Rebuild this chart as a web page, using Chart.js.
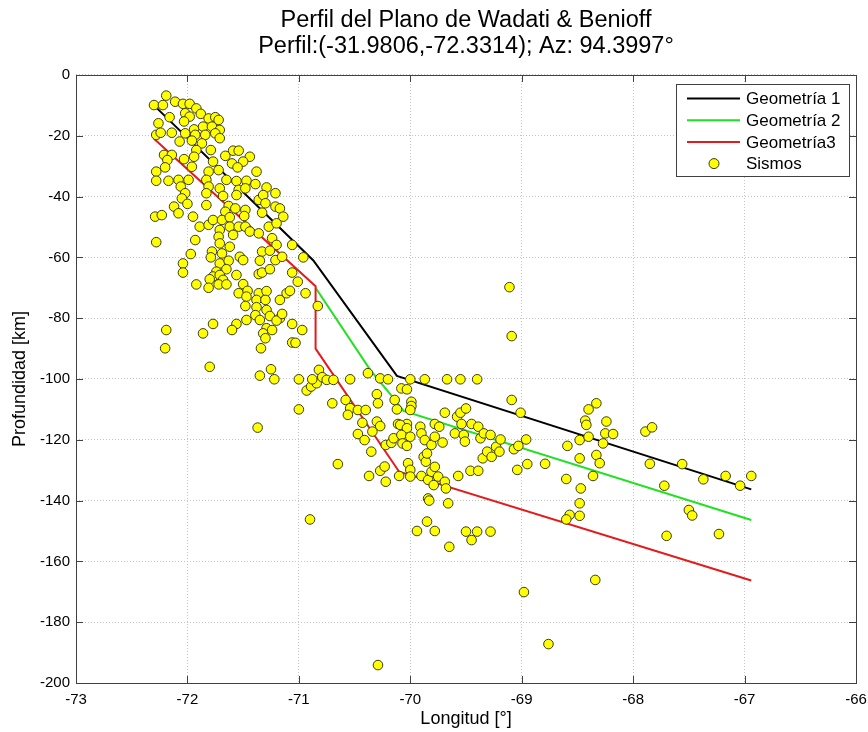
<!DOCTYPE html>
<html lang="es">
<head>
<meta charset="UTF-8">
<title>Perfil del Plano de Wadati & Benioff</title>
<script src="https://cdn.jsdelivr.net/npm/chart.js@4.4.1/dist/chart.umd.min.js"></script>
<style>
  html, body { margin: 0; padding: 0; background: #fff; }
  #wrap { width: 868px; height: 732px; }
</style>
</head>
<body>
<div id="wrap"><canvas id="grafico" width="868" height="732"></canvas></div>

<script>
// Geometrías del plano (longitud, profundidad)
const geom1Lon = [-72.3, -70.87, -70.12, -66.94];
const geom1Prof = [-10, -61, -99, -136.3];
const geom2Lon = [-70.85, -70.36, -70.18, -70.06, -66.94];
const geom2Prof = [-70, -97, -105, -110.5, -146.4];
const geom3Lon = [-72.3, -70.85, -70.85, -70.1, -66.94];
const geom3Prof = [-21, -69.5, -90, -130.5, -166.3];

// Sismos
const sismosLon = [
  -72.19, -72.30, -72.22, -72.11, -72.04, -71.98, -71.92, -72.16, -72.02, -71.98,
  -71.88, -71.81, -71.75, -71.72, -72.26, -72.03, -71.94, -71.86, -71.78, -71.71,
  -72.28, -72.24, -72.14, -72.02, -71.93, -71.84, -71.75, -71.71, -72.07, -71.96,
  -71.87, -71.79, -71.92, -71.59, -71.54, -72.21, -72.14, -71.94, -71.66, -71.44,
  -72.18, -72.03, -71.77, -71.50, -71.96, -72.20, -71.60, -71.55, -72.28, -71.72,
  -71.38, -71.81, -72.28, -72.17, -72.08, -71.99, -71.83, -71.65, -71.56, -71.47,
  -71.39, -71.29, -71.21, -72.06, -72.02, -71.81, -71.71, -71.54, -71.48, -72.05,
  -71.83, -71.68, -71.56, -71.36, -71.32, -72.12, -72.00, -71.83, -71.63, -71.57,
  -71.48, -71.30, -71.21, -71.17, -72.29, -72.23, -72.08, -71.95, -71.66, -71.49,
  -71.33, -71.14, -71.89, -71.81, -71.77, -71.69, -71.62, -71.71, -71.62, -71.54,
  -71.48, -71.44, -71.36, -71.27, -71.20, -71.93, -71.72, -71.59, -71.24,
  -72.28, -71.71, -71.62, -71.20, -71.06, -71.97, -71.78, -71.79, -71.69, -71.53,
  -71.50, -71.33, -71.26, -71.21, -71.15, -70.96, -71.35, -72.04, -72.04, -71.71,
  -71.63, -71.65, -71.74, -71.77, -71.71, -71.68, -71.80, -71.56, -71.36, -71.33,
  -71.26, -71.06, -71.01, -71.92, -71.81, -71.72, -71.65, -71.50, -71.54, -71.46,
  -71.47, -71.36, -71.29, -71.38, -71.30, -71.17, -71.11, -71.08, -70.94, -70.83,
  -71.48, -71.38, -71.39, -71.29, -71.26, -71.35, -71.47, -71.56, -71.60, -71.77,
  -71.86, -72.19, -72.20, -71.29, -71.32, -71.24, -71.17, -71.20, -71.15, -71.06,
  -70.97, -71.06, -71.03, -71.30, -71.34, -71.80, -71.35, -71.25, -71.22, -71.00,
  -70.93, -70.89, -70.84, -70.82, -71.00, -70.88, -70.79, -70.75, -70.69, -70.54,
  -70.38, -70.27, -70.20, -70.00, -69.87, -69.67, -69.55, -69.40, -70.70, -70.58,
  -70.54, -70.56, -70.47, -70.40, -70.43, -70.30, -70.29, -70.30, -70.27, -70.14,
  -70.12, -70.08, -70.03, -69.99, -69.99, -70.00, -70.11, -70.03, -69.91, -69.78,
  -69.74, -69.69, -69.58, -69.55, -69.50, -69.54, -69.45, -69.39,
  -70.47, -70.41, -70.35, -70.34, -70.65, -70.37, -70.27, -70.23, -70.22, -70.22,
  -70.17, -70.15, -70.09, -70.03, -70.08, -70.07, -70.00, -70.03, -70.10, -70.02,
  -70.00, -70.00, -69.90, -69.87, -69.81, -69.78, -69.71, -69.88, -69.86, -69.85,
  -69.90, -69.84, -69.81, -69.78, -69.79, -69.75, -69.69, -69.68, -69.84, -69.83,
  -69.66, -69.85, -69.94, -69.78, -69.65, -69.50, -69.40, -69.45, -69.28, -70.90,
  -69.57, -69.46, -69.39, -69.60, -69.52, -69.51, -69.37, -69.34, -69.28, -69.35,
  -69.31, -69.27, -69.23, -69.20, -69.19, -69.07, -69.03, -68.96, -69.04, -68.95,
  -68.98, -70.29,
  -69.11, -69.09, -69.09, -69.01, -68.79, -68.59, -68.48, -68.48, -68.40, -68.33,
  -68.30, -68.27, -68.25, -68.18, -68.43, -68.42, -68.40, -68.33, -68.24, -67.89,
  -67.83, -67.85,
  -68.36, -68.60, -68.47, -68.48, -68.48, -68.57, -68.60, -68.34, -67.72, -67.70,
  -67.56, -67.50, -67.47, -67.37, -67.23, -67.17, -67.04, -66.94,
  -71.37, -68.76
];
const sismosProf = [
  -6.8, -9.9, -9.9, -8.8, -9.5, -9.5, -11.0, -13.9, -12.6, -13.7,
  -12.8, -14.3, -13.9, -14.8, -15.9, -15.3, -17.9, -17.0, -17.0, -18.1,
  -19.7, -19.0, -19.0, -19.2, -19.7, -19.7, -19.2, -20.8, -21.9, -21.6,
  -22.5, -24.7, -24.7, -24.9, -24.9, -26.3, -26.3, -26.9, -26.6, -26.9,
  -28.0, -27.7, -28.5, -28.5, -30.2, -30.4, -29.1, -30.4, -31.8, -31.3,
  -31.8, -31.8, -34.8, -34.8, -34.5, -34.5, -34.5, -34.5, -34.9, -34.8,
  -35.9, -37.0, -38.9, -36.7, -38.9, -36.7, -37.3, -37.8, -37.3, -40.6,
  -38.9, -39.8, -39.5, -41.1, -39.5, -43.3, -42.4, -42.8, -43.1, -43.9,
  -44.4, -42.2, -43.3, -43.9, -46.6, -46.1, -45.5, -46.6, -45.0, -46.4,
  -45.3, -46.6, -49.9, -49.3, -47.7, -47.7, -46.8, -51.0, -49.9, -49.9,
  -49.9, -51.5, -52.1, -49.9, -48.8, -54.3, -53.2, -52.6, -53.7,
  -55.0, -55.4, -56.5, -55.9, -55.9, -58.9, -58.1, -60.0, -58.7, -59.8,
  -60.9, -58.1, -57.8, -60.9, -59.8, -60.0, -61.1, -62.0, -65.0, -62.0,
  -61.1, -63.9, -64.7, -66.3, -65.8, -67.4, -67.2, -65.8, -65.5, -65.0,
  -63.9, -65.0, -68.0, -68.9, -70.0, -68.9, -68.9, -68.8, -71.8, -71.0,
  -72.9, -71.8, -71.1, -74.0, -74.0, -74.0, -71.8, -71.0, -71.8, -76.0,
  -76.0, -76.4, -79.0, -77.3, -79.3, -80.6, -80.6, -81.9, -83.9, -81.9,
  -85.0, -83.9, -89.9, -83.3, -85.0, -83.9, -80.0, -80.8, -78.6, -81.9,
  -83.9, -88.0, -88.1, -86.6, -89.9, -96.0, -98.9, -96.8, -100.1, -100.1,
  -103.8, -102.5, -101.4, -97.0, -110.0, -100.1, -99.4, -100.3, -100.3, -100.1,
  -98.1, -99.8, -100.1, -100.1, -100.1, -100.1, -100.1, -100.1, -108.0, -106.9,
  -109.6, -111.8, -110.2, -110.2, -114.4, -105.0, -108.0, -114.0, -115.5, -106.9,
  -110.0, -103.1, -103.4, -107.5, -108.9, -110.2, -114.8, -114.8, -115.7, -114.8,
  -115.7, -111.1, -112.4, -111.1, -109.7, -114.8, -114.8, -115.7,
  -118.1, -120.1, -123.9, -117.3, -128.0, -131.9, -130.2, -128.8, -133.8, -121.7,
  -121.0, -119.5, -115.1, -116.2, -118.4, -121.2, -119.0, -122.0, -131.9, -127.7,
  -129.9, -132.1, -117.9, -120.1, -121.7, -119.0, -120.9, -125.6, -127.2, -124.5,
  -131.9, -133.2, -130.5, -128.9, -134.9, -132.1, -133.8, -136.0, -139.3, -140.0,
  -140.9, -146.9, -150.0, -150.0, -155.2, -150.2, -150.2, -153.0, -150.2, -146.2,
  -131.9, -130.2, -130.2, -117.9, -118.4, -120.6, -119.5, -117.9, -118.4, -126.1,
  -123.9, -125.6, -122.3, -123.9, -119.9, -123.1, -122.0, -119.9, -129.9, -128.0,
  -170.1, -194.1,
  -69.8, -85.9, -106.9, -111.1, -127.9, -122.0, -126.1, -120.1, -119.0, -125.0,
  -127.7, -121.2, -117.9, -118.1, -113.7, -115.1, -110.0, -108.0, -114.0, -117.3,
  -115.9, -127.9,
  -131.9, -132.9, -136.0, -140.9, -145.0, -144.7, -146.2, -166.1, -135.1, -151.6,
  -128.0, -143.1, -144.9, -133.0, -151.0, -131.9, -135.1, -131.9,
  -116.0, -187.2
];

const etiquetas = ['Geometría 1', 'Geometría 2', 'Geometría3', 'Sismos'];
const FUENTE = "'Liberation Sans', Arial, Helvetica, sans-serif";

function pares(lon, prof) {
  return lon.map((x, i) => ({ x: x, y: prof[i] }));
}

// marco tipo MATLAB: caja, ticks hacia adentro y leyenda con borde
const marcoMatlab = {
  id: 'marcoMatlab',
  afterDraw(chart) {
    const ctx = chart.ctx;
    const a = chart.chartArea;
    const sx = chart.scales.x, sy = chart.scales.y;
    const largo = 7;

    ctx.save();
    ctx.strokeStyle = '#404040';
    ctx.lineWidth = 1;
    ctx.beginPath();
    sx.ticks.forEach(t => {
      const px = Math.round(sx.getPixelForValue(t.value)) + 0.5;
      ctx.moveTo(px, a.bottom); ctx.lineTo(px, a.bottom - largo);
      ctx.moveTo(px, a.top); ctx.lineTo(px, a.top + largo);
    });
    sy.ticks.forEach(t => {
      const py = Math.round(sy.getPixelForValue(t.value)) + 0.5;
      ctx.moveTo(a.left, py); ctx.lineTo(a.left + largo, py);
      ctx.moveTo(a.right, py); ctx.lineTo(a.right - largo, py);
    });
    ctx.stroke();
    ctx.strokeRect(Math.round(a.left) + 0.5, Math.round(a.top) + 0.5,
      Math.round(a.right - a.left), Math.round(a.bottom - a.top));

    // leyenda
    const w = 173, h = 92;
    const x0 = Math.round(a.right - 7 - w), y0 = Math.round(a.top + 9);
    ctx.fillStyle = '#fff';
    ctx.fillRect(x0, y0, w, h);
    ctx.strokeRect(x0 + 0.5, y0 + 0.5, w, h);
    ctx.font = '17px ' + FUENTE;
    ctx.textBaseline = 'middle';
    ctx.textAlign = 'left';
    chart.data.datasets.forEach((ds, i) => {
      const yy = y0 + 14.5 + i * 21.7;
      if (ds.showLine) {
        ctx.strokeStyle = ds.borderColor;
        ctx.lineWidth = 2;
        ctx.beginPath();
        ctx.moveTo(x0 + 11, yy); ctx.lineTo(x0 + 64, yy);
        ctx.stroke();
      } else {
        ctx.fillStyle = ds.backgroundColor;
        ctx.strokeStyle = ds.borderColor;
        ctx.lineWidth = 1;
        ctx.beginPath();
        ctx.arc(x0 + 38, yy, 5, 0, Math.PI * 2);
        ctx.fill(); ctx.stroke();
      }
      ctx.fillStyle = '#000';
      ctx.fillText(ds.label, x0 + 70, yy + 1);
    });
    ctx.restore();
  }
};

const ctx = document.getElementById('grafico').getContext('2d');
new Chart(ctx, {
  type: 'scatter',
  data: {
    datasets: [
      { label: etiquetas[0], data: pares(geom1Lon, geom1Prof), showLine: true,
        borderColor: '#000000', borderWidth: 2, pointRadius: 0, order: 3 },
      { label: etiquetas[1], data: pares(geom2Lon, geom2Prof), showLine: true,
        borderColor: '#22e022', borderWidth: 2, pointRadius: 0, order: 2 },
      { label: etiquetas[2], data: pares(geom3Lon, geom3Prof), showLine: true,
        borderColor: '#e31b1b', borderWidth: 2, pointRadius: 0, order: 1 },
      { label: etiquetas[3], data: pares(sismosLon, sismosProf), showLine: false,
        backgroundColor: '#ffff00', borderColor: '#3a3a1a', borderWidth: 1,
        pointRadius: 4.8, order: 0 }
    ]
  },
  options: {
    responsive: false,
    animation: false,
    layout: { padding: { left: 0, right: 12, top: 0, bottom: 0 } },
    plugins: {
      legend: { display: false },
      tooltip: { enabled: false },
      title: {
        display: true,
        fullSize: false,
        text: ['Perfil del Plano de Wadati & Benioff', 'Perfil:(-31.9806,-72.3314); Az: 94.3997°'],
        color: '#000',
        font: { family: FUENTE, size: 23.5, weight: 'normal', lineHeight: 1.08 },
        padding: { top: 8, bottom: 16.2 }
      }
    },
    scales: {
      x: {
        type: 'linear',
        position: 'bottom',
        min: -73, max: -66,
        ticks: { stepSize: 1, color: '#000', padding: 8,
          font: { family: FUENTE, size: 15 }, callback: v => String(v) },
        grid: { color: '#c4c4c4', drawTicks: false },
        border: { display: false, dash: [1, 2] },
        title: { display: true, text: 'Longitud [°]', color: '#000',
          font: { family: FUENTE, size: 18 }, padding: { top: 0, bottom: 2 } },
        afterFit: s => { s.height = 49; s.paddingLeft = 0; s.paddingRight = 0; }
      },
      y: {
        type: 'linear',
        min: -200, max: 0,
        ticks: { stepSize: 20, color: '#000', padding: 6,
          font: { family: FUENTE, size: 15 }, callback: v => String(v) },
        grid: { color: '#c4c4c4', drawTicks: false },
        border: { display: false, dash: [1, 2] },
        title: { display: true, text: 'Profundidad [km]', color: '#000',
          font: { family: FUENTE, size: 18 }, padding: { top: 9, bottom: 0 } },
        afterFit: s => { s.width = 76; }
      }
    }
  },
  plugins: [marcoMatlab]
});
</script>
</body>
</html>
